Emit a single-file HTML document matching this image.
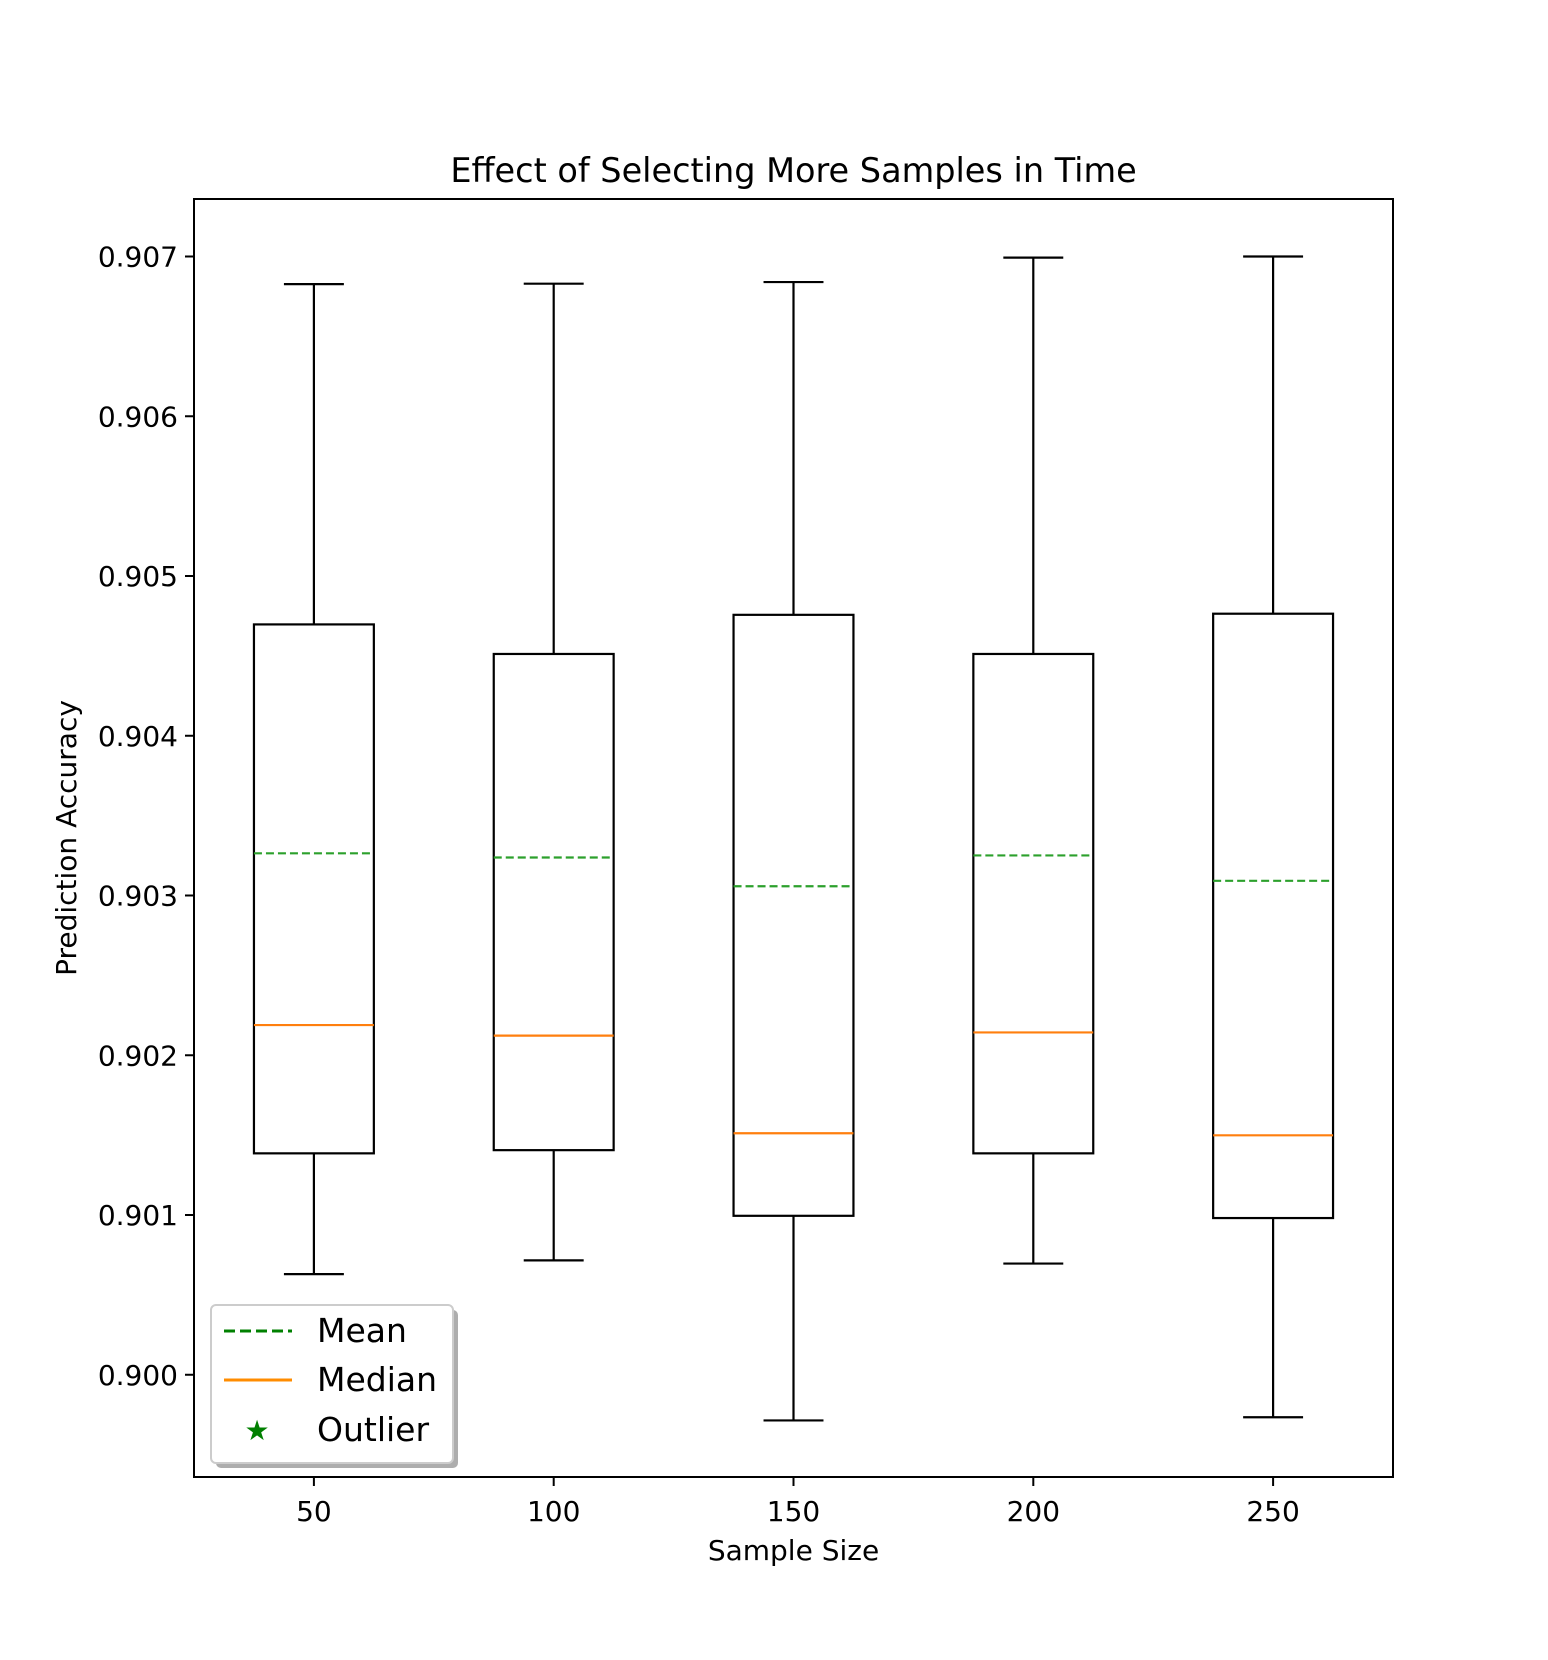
<!DOCTYPE html>
<html><head><meta charset="utf-8"><style>
body{margin:0;background:#fff}
svg{display:block;font-family:"DejaVu Sans","Liberation Sans",sans-serif}
</style></head><body>
<svg id="chart" width="1548" height="1660" viewBox="0 0 1548 1660" xmlns="http://www.w3.org/2000/svg">
<rect width="1548" height="1660" fill="#fff"/>
<text x="793.5" y="182" font-size="33.5" text-anchor="middle">Effect of Selecting More Samples in Time</text>
<g id="marks"></g>
<rect x="194" y="199" width="1199" height="1278" fill="none" stroke="#000" stroke-width="2"/>
<text x="793.5" y="1560" font-size="28" text-anchor="middle">Sample Size</text>
<text transform="translate(76,838) rotate(-90)" font-size="28" text-anchor="middle">Prediction Accuracy</text>
<g id="ticks"></g>
<g>
<rect x="216" y="1310" width="242" height="158" rx="5" fill="#999" opacity="0.8"/>
<rect x="211" y="1305" width="242" height="158" rx="5" fill="#fff" stroke="#ccc" stroke-width="2"/>
<line x1="224" y1="1331" x2="292" y2="1331" stroke="green" stroke-width="3" stroke-dasharray="11,5"/>
<text x="317" y="1342" font-size="33">Mean</text>
<line x1="224" y1="1380" x2="292" y2="1380" stroke="darkorange" stroke-width="3"/>
<text x="317" y="1391" font-size="33">Median</text>
<text x="257" y="1440" font-size="28" fill="green" text-anchor="middle">★</text>
<text x="317" y="1441" font-size="33">Outlier</text>
</g>
</svg>
<script>
const categories = ["50","100","150","200","250"];
const whiskerHigh = [0.906827,0.90683,0.90684,0.906993,0.907];
const q3 = [0.904697,0.904512,0.904757,0.904512,0.904764];
const means = [0.903264,0.903238,0.903058,0.903251,0.903092];
const medians = [0.902189,0.902123,0.901512,0.902143,0.901499];
const q1 = [0.901386,0.901406,0.900995,0.901386,0.900981];
const whiskerLow = [0.90063,0.900716,0.899714,0.900696,0.899734];
const yTicks = [0.900,0.901,0.902,0.903,0.904,0.905,0.906,0.907];

const NS="http://www.w3.org/2000/svg";
const L=194,R=1393,T=199,B=1477;
const yMin=0.89936,yMax=0.90736;
const xs=i=>L+(i+1-0.5)/5*(R-L);
const ys=v=>B-(v-yMin)/(yMax-yMin)*(B-T);
const bw=(R-L)/5;
function mk(tag,attrs,parent){const e=document.createElementNS(NS,tag);for(const k in attrs)e.setAttribute(k,attrs[k]);parent.appendChild(e);return e;}
const marks=document.getElementById('marks'),ticks=document.getElementById('ticks');
categories.forEach((c,i)=>{
 const x=xs(i);
 const g=mk('g',{},marks);
 
 
 const s={stroke:'#000','stroke-width':2.2,fill:'none'};
 mk('line',Object.assign({x1:x,x2:x,y1:ys(whiskerHigh[i]),y2:ys(q3[i])},s),g);
 mk('line',Object.assign({x1:x,x2:x,y1:ys(q1[i]),y2:ys(whiskerLow[i])},s),g);
 mk('line',Object.assign({x1:x-bw*0.125,x2:x+bw*0.125,y1:ys(whiskerHigh[i]),y2:ys(whiskerHigh[i])},s),g);
 mk('line',Object.assign({x1:x-bw*0.125,x2:x+bw*0.125,y1:ys(whiskerLow[i]),y2:ys(whiskerLow[i])},s),g);
 mk('rect',Object.assign({x:x-bw*0.25,y:ys(q3[i]),width:bw*0.5,height:ys(q1[i])-ys(q3[i])},s),g);
 mk('line',{x1:x-bw*0.25,x2:x+bw*0.25,y1:ys(medians[i]),y2:ys(medians[i]),stroke:'#ff7f0e','stroke-width':2.2},g);
 mk('line',{x1:x-bw*0.25,x2:x+bw*0.25,y1:ys(means[i]),y2:ys(means[i]),stroke:'#2ca02c','stroke-width':2.2,'stroke-dasharray':'8,4'},g);
 const t=mk('line',{x1:x,x2:x,y1:B,y2:B+9,stroke:'#000','stroke-width':2},ticks);
 
 
 const lb=mk('text',{x:x,y:B+44,'font-size':28,'text-anchor':'middle'},ticks);
 lb.textContent=c;
 
 
});
yTicks.forEach(v=>{
 const y=ys(v);
 const t=mk('line',{x1:L-9,x2:L,y1:y,y2:y,stroke:'#000','stroke-width':2},ticks);
 
 
 const lb=mk('text',{x:L-16,y:y+10,'font-size':28,'text-anchor':'end'},ticks);
 lb.textContent=v.toFixed(3);
 
 
});
</script>
</body></html>
